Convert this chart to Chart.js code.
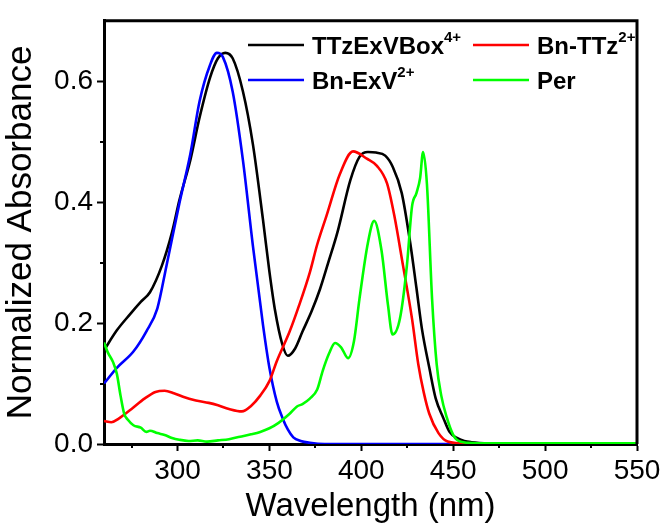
<!DOCTYPE html>
<html>
<head>
<meta charset="utf-8">
<title>Normalized Absorbance</title>
<script src="https://cdn.jsdelivr.net/npm/chart.js@4.4.1/dist/chart.umd.min.js"></script>
<style>
    html, body { margin: 0; padding: 0; background: #fff; }
    #wrap { width: 667px; height: 527px; }
</style>
</head>
<body>
<div id="wrap"><canvas id="absChart" width="667" height="527"></canvas></div>
<script>
// wavelength (nm) and normalized absorbance, one pair of arrays per spectrum
const box_wl = [260, 267, 274, 280, 285, 291.5, 297, 301, 307, 312, 317.7, 322, 326, 330, 335.6, 341, 346.5, 350, 353, 357, 360, 364, 368, 373, 377.5, 382, 387, 394, 399, 403.6, 408, 413, 417, 422, 426.5, 430, 433, 437, 440.5, 444.5, 448, 452, 456, 460, 470, 490, 520, 550],
    box_abs = [0.155, 0.188, 0.214, 0.235, 0.251, 0.295, 0.35, 0.403, 0.47, 0.54, 0.606, 0.638, 0.647, 0.638, 0.583, 0.496, 0.371, 0.285, 0.222, 0.165, 0.146, 0.158, 0.186, 0.22, 0.256, 0.3, 0.35, 0.436, 0.475, 0.483, 0.482, 0.477, 0.459, 0.415, 0.335, 0.258, 0.19, 0.126, 0.075, 0.044, 0.02, 0.01, 0.005, 0.003, 0.001, 0.0, 0.0, 0.0];

const ttz_wl = [260, 264, 268, 275, 282, 288, 293, 298, 303, 310, 317, 322, 328, 335, 340, 345, 350, 354, 361, 366, 372, 376, 381, 388.4, 395.5, 403, 408.5, 414, 418, 422.7, 427.6, 431, 434, 437, 442, 447, 455, 470, 550],
    ttz_abs = [0.038, 0.036, 0.042, 0.058, 0.075, 0.086, 0.088, 0.084, 0.078, 0.072, 0.068, 0.064, 0.058, 0.054, 0.063, 0.08, 0.104, 0.137, 0.186, 0.228, 0.284, 0.33, 0.377, 0.447, 0.484, 0.472, 0.46, 0.431, 0.377, 0.295, 0.207, 0.132, 0.085, 0.05, 0.018, 0.004, 0.001, 0.0, 0.0];

const exv_wl = [260, 267, 276, 283, 289, 294, 301, 307, 312, 317.7, 321.4, 324.7, 330, 335.6, 341, 346.5, 350, 354, 357, 360, 363, 367, 372, 380, 550],
    exv_abs = [0.1, 0.126, 0.153, 0.186, 0.224, 0.295, 0.398, 0.48, 0.567, 0.627, 0.647, 0.64, 0.583, 0.469, 0.328, 0.197, 0.126, 0.07, 0.044, 0.024, 0.011, 0.005, 0.002, 0.0, 0.0];

const per_wl = [260, 262, 265, 267, 269, 271, 273, 276, 280, 283, 285, 289, 293, 297, 301, 306, 311, 316, 322, 328, 334, 340, 345, 350, 355, 361, 365, 368, 372, 376, 379, 382.5, 385.7, 389, 392.8, 396, 399, 403.6, 407, 411, 414.5, 417, 421, 424.8, 427.6, 430, 432, 433.6, 435.7, 438.5, 441, 443.5, 446.5, 450, 452, 458, 470, 550],
    per_abs = [0.168, 0.152, 0.135, 0.116, 0.08, 0.05, 0.04, 0.031, 0.027, 0.02, 0.022, 0.018, 0.015, 0.01, 0.007, 0.005, 0.006, 0.004, 0.006, 0.008, 0.012, 0.016, 0.02, 0.026, 0.035, 0.05, 0.062, 0.066, 0.075, 0.09, 0.121, 0.15, 0.167, 0.16, 0.142, 0.17, 0.24, 0.333, 0.369, 0.32, 0.23, 0.181, 0.207, 0.295, 0.393, 0.415, 0.44, 0.483, 0.43, 0.24, 0.132, 0.08, 0.044, 0.015, 0.007, 0.002, 0.001, 0.001];

// tick values for both axes
const x_major = [300, 350, 400, 450, 500, 550],
    x_minor = [275, 325, 375, 425, 475, 525],
    y_major = [0.0, 0.2, 0.4, 0.6],
    y_minor = [0.1, 0.3, 0.5];

// pair the wavelength array with its absorbance array
const toPoints = (wl, abs) => wl.map((w, i) => ({ x: w, y: abs[i] }));

const FONT = "'Liberation Sans', Arial, Helvetica, sans-serif";

// legend entries (two columns, two rows like the original)
const legend_items = [
    { name: 'TTzExVBox', sup: '4+', color: '#000000', col: 0, row: 0 },
    { name: 'Bn-TTz', sup: '2+', color: '#ff0000', col: 1, row: 0 },
    { name: 'Bn-ExV', sup: '2+', color: '#0000ff', col: 0, row: 1 },
    { name: 'Per', sup: '', color: '#00ff00', col: 1, row: 1 }
];

// plugin that draws the frame, the minor ticks and the legend
const framePlugin = {
    id: 'framePlugin',
    afterDraw: (chart) => {
        const c = chart.ctx,
            area = chart.chartArea,
            xs = chart.scales.x,
            ys = chart.scales.y;

        c.save();
        c.strokeStyle = '#000';
        c.lineWidth = 3;
        c.beginPath();
        c.moveTo(area.left, area.top);
        c.lineTo(area.right, area.top);
        c.lineTo(area.right, area.bottom);
        c.stroke();

        // minor ticks
        c.lineWidth = 2;
        c.beginPath();
        x_minor.forEach(v => {
            const px = Math.round(xs.getPixelForValue(v));
            c.moveTo(px, area.bottom);
            c.lineTo(px, area.bottom + 4);
        });
        y_minor.forEach(v => {
            const py = Math.round(ys.getPixelForValue(v));
            c.moveTo(area.left, py);
            c.lineTo(area.left - 4, py);
        });
        c.stroke();

        // legend
        const col_line = [248, 473],
            row_y = [45, 80];
        legend_items.forEach(item => {
            const lx = col_line[item.col],
                ly = row_y[item.row];
            c.strokeStyle = item.color;
            c.lineWidth = 2.5;
            c.beginPath();
            c.moveTo(lx, ly);
            c.lineTo(lx + 56, ly);
            c.stroke();

            c.fillStyle = '#000';
            c.textBaseline = 'alphabetic';
            c.textAlign = 'left';
            c.font = `bold 24px ${FONT}`;
            const tx = lx + 64;
            c.fillText(item.name, tx, ly + 9);
            if (item.sup) {
                const w = c.measureText(item.name).width;
                c.font = `bold 15px ${FONT}`;
                c.fillText(item.sup, tx + w, ly - 3);
            }
        });
        c.restore();
    }
};

const dataset = (label, wl, abs, color, order) => ({
    label: label,
    data: toPoints(wl, abs),
    borderColor: color,
    borderWidth: 2.6,
    pointRadius: 0,
    fill: false,
    tension: 0.4,
    cubicInterpolationMode: 'monotone',
    order: order
});

const ctx = document.getElementById('absChart').getContext('2d');

new Chart(ctx, {
    type: 'line',
    data: {
        datasets: [
            dataset('Per', per_wl, per_abs, '#00ff00', 0),
            dataset('Bn-TTz2+', ttz_wl, ttz_abs, '#ff0000', 1),
            dataset('Bn-ExV2+', exv_wl, exv_abs, '#0000ff', 2),
            dataset('TTzExVBox4+', box_wl, box_abs, '#000000', 3)
        ]
    },
    options: {
        responsive: false,
        animation: false,
        layout: {
            padding: { top: 16, right: 30, left: 0, bottom: 0 }
        },
        plugins: {
            legend: { display: false },
            tooltip: { enabled: false }
        },
        scales: {
            x: {
                type: 'linear',
                min: 260,
                max: 550,
                afterBuildTicks: (scale) => {
                    scale.ticks = x_major.map(v => ({ value: v }));
                },
                afterFit: (scale) => {
                    scale.height = 83;
                },
                grid: {
                    drawOnChartArea: false,
                    drawTicks: true,
                    tickLength: 7,
                    tickWidth: 2,
                    tickColor: '#000'
                },
                border: { display: true, color: '#000', width: 3 },
                ticks: {
                    color: '#000',
                    padding: 3,
                    maxRotation: 0,
                    font: { family: FONT, size: 28 },
                    callback: (v) => v
                },
                title: {
                    display: true,
                    text: 'Wavelength (nm)',
                    color: '#000',
                    font: { family: FONT, size: 33 },
                    padding: { top: 0, bottom: 0 }
                }
            },
            y: {
                type: 'linear',
                min: 0,
                max: 0.7,
                afterBuildTicks: (scale) => {
                    scale.ticks = y_major.map(v => ({ value: v }));
                },
                afterFit: (scale) => {
                    scale.width = 104;
                },
                grid: {
                    drawOnChartArea: false,
                    drawTicks: true,
                    tickLength: 7,
                    tickWidth: 2,
                    tickColor: '#000'
                },
                border: { display: true, color: '#000', width: 3 },
                ticks: {
                    color: '#000',
                    padding: 4,
                    font: { family: FONT, size: 28 },
                    callback: (v) => v.toFixed(1)
                },
                title: {
                    display: true,
                    text: 'Normalized Absorbance',
                    color: '#000',
                    font: { family: FONT, size: 35 },
                    padding: { top: 0, bottom: 0 }
                }
            }
        }
    },
    plugins: [framePlugin]
});
</script>
</body>
</html>
